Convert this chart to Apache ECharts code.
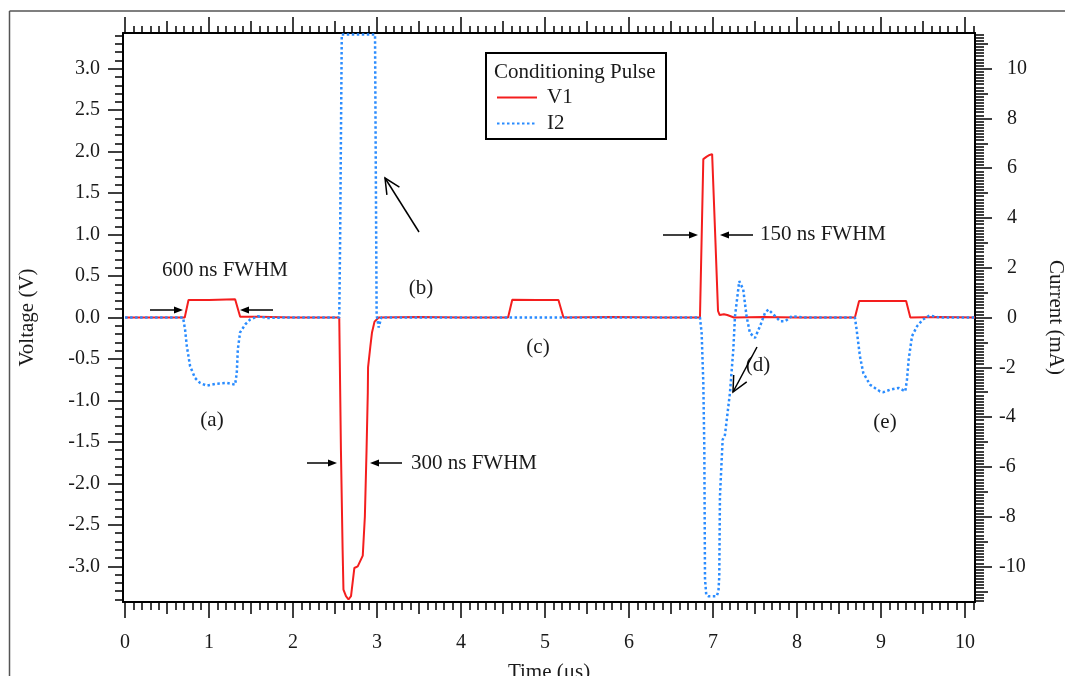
<!DOCTYPE html>
<html>
<head>
<meta charset="utf-8">
<script src="https://cdn.jsdelivr.net/npm/echarts@6/dist/echarts.min.js"></script>
<style>
html,body{margin:0;padding:0;background:#fff;}
#chart{width:1065px;height:676px;}
</style>
</head>
<body>
<div id="chart"></div>
<script>
// ---------- DATA ----------
const v1Time = [0, 0.71, 0.755, 1.0, 1.31, 1.37, 1.6, 2.0, 2.55, 2.57, 2.59, 2.60, 2.63, 2.66, 2.69, 2.73, 2.77, 2.83, 2.855, 2.875, 2.89, 2.893, 2.897, 2.92, 2.94, 2.97, 3.02, 3.5, 4.0, 4.56, 4.61, 4.9, 5.16, 5.22, 5.8, 6.4, 6.845, 6.885, 6.90, 6.925, 6.94, 6.96, 6.99, 7.0, 7.03, 7.06, 7.08, 7.13, 7.17, 7.25, 7.6, 8.0, 8.69, 8.74, 9.0, 9.30, 9.35, 9.7, 10.12];
const v1Volt = [0, 0, 0.21, 0.21, 0.22, 0.01, 0.01, 0, 0, -1.6, -2.8, -3.28, -3.36, -3.40, -3.36, -3.02, -3.0, -2.87, -2.4, -1.6, -0.9, -0.6, -0.62, -0.35, -0.18, -0.05, 0, 0.005, 0, 0, 0.215, 0.21, 0.21, 0, 0.005, 0, 0, 1.91, 1.91, 1.94, 1.92, 1.96, 1.97, 1.97, 0.9, 0.08, 0.03, 0.04, 0.03, 0, 0.005, 0, 0, 0.20, 0.20, 0.20, 0, 0.005, 0];

const i2Time = [0, 0.69, 0.714, 0.735, 0.774, 0.833, 0.893, 0.973, 1.09, 1.21, 1.31, 1.33, 1.342, 1.369, 1.43, 1.49, 1.58, 1.69, 1.9, 2.55, 2.56, 2.58, 2.976, 2.995, 3.02, 3.05, 3.6, 4.5, 5.5, 6.4, 6.845, 6.865, 6.885, 6.897, 6.905, 6.92, 6.944, 7.044, 7.065, 7.075, 7.083, 7.115, 7.143, 7.202, 7.242, 7.262, 7.313, 7.36, 7.40, 7.44, 7.50, 7.56, 7.62, 7.66, 7.72, 7.80, 7.86, 7.94, 8.1, 8.69, 8.71, 8.75, 8.79, 8.87, 8.99, 9.03, 9.11, 9.21, 9.29, 9.31, 9.33, 9.37, 9.43, 9.50, 9.58, 9.7, 10.12];
const i2Curr = [0, 0, -0.48, -1.15, -1.96, -2.43, -2.63, -2.74, -2.66, -2.63, -2.70, -2.21, -1.29, -0.6, -0.28, -0.08, 0.05, -0.02, 0, 0, 3.0, 11.37, 11.37, 0.1, -0.4, 0, 0, 0, 0, 0, 0, -0.62, -2.63, -5.3, -10.5, -11.15, -11.2, -11.2, -11.0, -10.4, -7.19, -4.91, -4.71, -3.03, -1.29, 0.05, 1.46, 1.13, 0.05, -0.62, -0.82, -0.35, 0.19, 0.32, 0.12, -0.15, -0.15, 0.05, 0, 0, -0.48, -1.56, -2.23, -2.70, -2.97, -3.0, -2.90, -2.83, -2.97, -2.49, -1.69, -0.75, -0.35, -0.08, 0.08, 0, 0];

const timeTicks = [0, 1, 2, 3, 4, 5, 6, 7, 8, 9, 10];
const voltTicks = [-3.0, -2.5, -2.0, -1.5, -1.0, -0.5, 0.0, 0.5, 1.0, 1.5, 2.0, 2.5, 3.0];
const currTicks = [-10, -8, -6, -4, -2, 0, 2, 4, 6, 8, 10];

// ---------- helpers ----------
function steps(a, b, s) { const out = []; const n = Math.round((b - a) / s); for (let i = 0; i <= n; i++) out.push(Math.round((a + i * s) * 1000) / 1000); return out; }
const timeMed = steps(0.5, 9.5, 1);
const timeMinor = steps(0, 10.1, 0.1);
const voltMinor = steps(-3.4, 3.4, 0.1);
const currMed = steps(-11, 11, 2);
const currMinor = steps(-11.375, 11.375, 0.125);

const FONT = 'Liberation Serif';
const TXT = '#1a1a1a';
const X_MIN = -0.025, X_MAX = 10.12;
const V_MIN = -3.43, V_MAX = 3.43;
const I_MIN = -11.43, I_MAX = 11.43;

function xAx(pos, values, len, opts) {
  return Object.assign({
    type: 'value', position: pos, min: X_MIN, max: X_MAX,
    axisLine: { show: false, onZero: false },
    axisTick: { show: true, inside: false, length: len, customValues: values, lineStyle: { color: '#000', width: 1.5 } },
    axisLabel: { show: false },
    splitLine: { show: false }
  }, opts || {});
}
function yAx(pos, mn, mx, values, len, opts) {
  return Object.assign({
    type: 'value', position: pos, min: mn, max: mx,
    axisLine: { show: false, onZero: false },
    axisTick: { show: true, inside: false, length: len, customValues: values, lineStyle: { color: '#000', width: 1.5 } },
    axisLabel: { show: false },
    splitLine: { show: false }
  }, opts || {});
}

const xAxes = [
  xAx('bottom', timeTicks, 16, {
    axisLine: { show: true, onZero: false, lineStyle: { color: '#000', width: 2 } },
    axisLabel: { show: true, customValues: timeTicks, margin: 31, color: TXT, fontFamily: FONT, fontSize: 20, formatter: v => String(v) },
    name: 'Time (\u03bcs)', nameLocation: 'middle', nameGap: 60,
    nameTextStyle: { color: TXT, fontFamily: FONT, fontSize: 21 }
  }),
  xAx('bottom', timeMed, 12),
  xAx('bottom', timeMinor, 8),
  xAx('top', timeTicks, 16, { axisLine: { show: true, onZero: false, lineStyle: { color: '#000', width: 2 } } }),
  xAx('top', timeMed, 12),
  xAx('top', timeMinor, 7)
];

const yAxes = [
  yAx('left', V_MIN, V_MAX, voltTicks, 15, {
    axisLine: { show: true, onZero: false, lineStyle: { color: '#000', width: 2 } },
    axisLabel: { show: true, customValues: voltTicks, margin: 23, color: TXT, fontFamily: FONT, fontSize: 20, formatter: v => v.toFixed(1) },
    name: 'Voltage (V)', nameLocation: 'middle', nameGap: 85, nameRotate: 90,
    nameTextStyle: { color: TXT, fontFamily: FONT, fontSize: 21 }
  }),
  yAx('left', V_MIN, V_MAX, voltMinor, 8),
  yAx('right', I_MIN, I_MAX, currTicks, 17, {
    axisLine: { show: true, onZero: false, lineStyle: { color: '#000', width: 2 } },
    axisLabel: {
      show: true, customValues: currTicks, margin: 24, color: TXT, fontFamily: FONT, fontSize: 20,
      formatter: v => v < 0 ? '{n|' + v + '}' : '{p| }{n|' + v + '}',
      rich: { p: { width: 8, fontFamily: FONT, fontSize: 20 }, n: { fontFamily: FONT, fontSize: 20, color: TXT } }
    },
    name: 'Current (mA)', nameLocation: 'middle', nameGap: 70, nameRotate: -90,
    nameTextStyle: { color: TXT, fontFamily: FONT, fontSize: 21 }
  }),
  yAx('right', I_MIN, I_MAX, currMed, 13),
  yAx('right', I_MIN, I_MAX, currMinor, 9)
];

// annotation helpers
function text(str, x, y, align) {
  return { type: 'text', x: x, y: y, style: { text: str, fill: TXT, font: '21px "' + FONT + '"', textAlign: align || 'left', textVerticalAlign: 'middle' } };
}
function hArrow(x1, x2, y) {
  const dir = x2 > x1 ? 1 : -1;
  const hb = x2 - dir * 9;
  return [
    { type: 'line', shape: { x1: x1, y1: y, x2: hb, y2: y }, style: { stroke: '#000', lineWidth: 1.5 } },
    { type: 'polygon', shape: { points: [[x2, y], [hb, y - 3.5], [hb, y + 3.5]] }, style: { fill: '#000' } }
  ];
}
function openArrow(x1, y1, x2, y2) {
  const ang = Math.atan2(y1 - y2, x1 - x2);
  const L = 17, a = 0.45;
  return [
    { type: 'line', shape: { x1: x1, y1: y1, x2: x2, y2: y2 }, style: { stroke: '#000', lineWidth: 1.5 } },
    { type: 'polyline', shape: { points: [[x2 + L * Math.cos(ang + a), y2 + L * Math.sin(ang + a)], [x2, y2], [x2 + L * Math.cos(ang - a), y2 + L * Math.sin(ang - a)]] }, style: { stroke: '#000', lineWidth: 1.5, fill: null } }
  ];
}

const graphics = [
  { type: 'line', shape: { x1: 9.5, y1: 11, x2: 1065, y2: 11 }, style: { stroke: '#555', lineWidth: 1.5 } },
  { type: 'line', shape: { x1: 9.5, y1: 11, x2: 9.5, y2: 676 }, style: { stroke: '#555', lineWidth: 1.5 } },
  { type: 'rect', shape: { x: 486, y: 53, width: 180, height: 86 }, style: { stroke: '#000', lineWidth: 2, fill: '#fff' }, z: 0 },
  text('Conditioning Pulse', 494, 72),
  text('600 ns FWHM', 162, 270),
  text('(a)', 212, 420, 'center'),
  text('(b)', 421, 288, 'center'),
  text('(c)', 538, 347, 'center'),
  text('(d)', 758, 365, 'center'),
  text('(e)', 885, 422, 'center'),
  text('300 ns FWHM', 411, 463),
  text('150 ns FWHM', 760, 234)
]
  .concat(hArrow(150, 183, 310))
  .concat(hArrow(273, 240, 310))
  .concat(hArrow(307, 337, 463))
  .concat(hArrow(402, 370, 463))
  .concat(hArrow(663, 698, 235))
  .concat(hArrow(753, 720, 235))
  .concat(openArrow(419, 232, 385, 178))
  .concat(openArrow(757, 347, 733, 392));

const chart = echarts.init(document.getElementById('chart'), null, { renderer: 'canvas' });
chart.setOption({
  animation: false,
  backgroundColor: '#fff',
  grid: { left: 123, right: 90, top: 33, bottom: 74, containLabel: false, outerBoundsMode: 'none' },
  xAxis: xAxes,
  yAxis: yAxes,
  legend: {
    data: ['V1', 'I2'], orient: 'vertical', left: 496, top: 87, padding: 0,
    itemWidth: 40, itemHeight: 14, itemGap: 5,
    itemStyle: { opacity: 0 },
    textStyle: { fontFamily: FONT, fontSize: 21, color: TXT, padding: [0, 0, 0, 5] },
    selectedMode: false
  },
  graphic: graphics,
  series: [
    {
      name: 'V1', type: 'line', xAxisIndex: 0, yAxisIndex: 0, symbol: 'none', showSymbol: false,
      lineStyle: { color: '#f41e1e', width: 2 }, itemStyle: { color: '#f41e1e' },
      data: v1Time.map((t, i) => [t, v1Volt[i]]), z: 3
    },
    {
      name: 'I2', type: 'line', xAxisIndex: 0, yAxisIndex: 2, symbol: 'none', showSymbol: false,
      lineStyle: { color: '#2a8cff', width: 2.5, type: [2.5, 2.5], cap: 'butt' }, itemStyle: { color: '#2a8cff' },
      data: i2Time.map((t, i) => [t, i2Curr[i]]), z: 4
    }
  ]
});
</script>
</body>
</html>
